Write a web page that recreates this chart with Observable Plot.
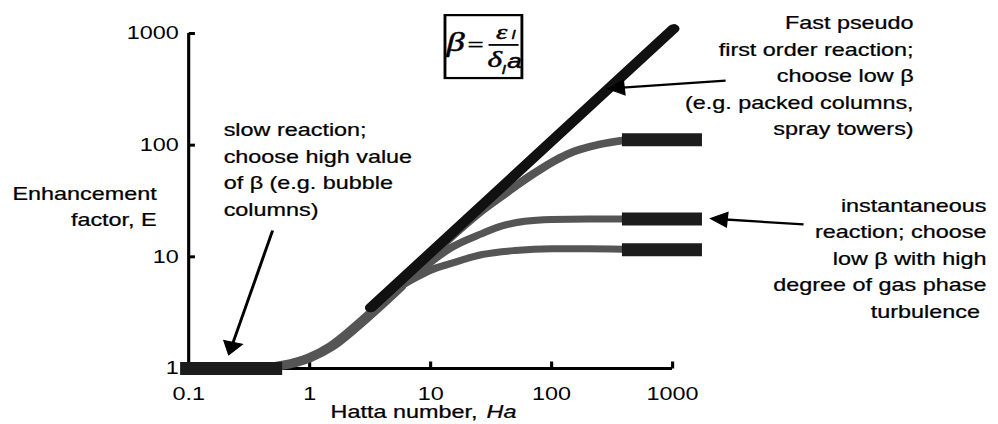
<!DOCTYPE html>
<html><head><meta charset="utf-8">
<script src="https://cdn.jsdelivr.net/npm/d3@7"></script>
<script src="https://cdn.jsdelivr.net/npm/@observablehq/plot@0.6"></script>
<style>body{margin:0;background:#fff} #chart svg{display:block}</style>
</head><body><div id="chart"></div>
<script>
// ---- axis ticks ----
const xTicks = [0.1, 1, 10, 100, 1000];
const xTickLabels = ["0.1", "1", "10", "100", "1000"];
const yTicks = [1, 10, 100, 1000];
const yTickLabels = ["1", "10", "100", "1000"];

// ---- curves (Hatta number Ha, enhancement factor E) ----
const riseHa = [0.1, 0.3, 0.45, 0.6, 0.8, 1.0, 1.5, 2.4, 3.9, 5.6];
const riseE  = [1, 1, 1.02, 1.07, 1.15, 1.25, 1.57, 2.35, 3.75, 5.4];
const highHa = [8, 10, 16.7, 26, 38, 55, 71, 100, 135, 254, 386];
const highE  = [8.2, 10.2, 17.0, 25.5, 34.5, 46, 55.5, 70, 83, 102, 110];
const midHa  = [8, 10, 14.6, 26, 38, 60, 100, 200, 386];
const midE   = [7.4, 9.0, 12.0, 16.0, 18.8, 20.8, 21.6, 21.8, 21.8];
const lowHa  = [7.5, 10, 14.6, 27, 50, 100, 200, 386];
const lowE   = [6.5, 7.6, 8.7, 10.5, 11.4, 11.8, 11.8, 11.7];
const fastHa = [3.2, 1020];
const fastE  = [3.5, 1106];

// ---- thick plateau bands ----
const plateauE = [112, 21.8, 11.6];
const plateauHa = [386, 1770];
const slowBandHa = [0.086, 0.6];
const slowBandE = 1;

// ---- arrows ----
const arrowTailHa = [0.494, 2742, 12090];
const arrowTailE  = [17.2, 379, 19.5];
const arrowHeadHa = [0.2266, 358, 2541];
const arrowHeadE  = [1.574, 326, 21.7];
const arrowAngle  = [-164.7, -95, -85.2];

// ---- annotations ----
const noteText = [
  "Enhancement\nfactor, E",
  "slow reaction;\nchoose high value\nof β (e.g. bubble\ncolumns)",
  "Fast pseudo\nfirst order reaction;\nchoose low β\n(e.g. packed columns,\nspray towers)",
  "instantaneous\nreaction; choose\nlow β with high\ndegree of gas phase\nturbulence\u00a0"
];
const noteHa = [0.0544, 0.1945, 98200, 393000];
const noteE  = [29.4, 63.1, 437, 10.1];
const noteAnchor = ["end", "start", "end", "end"];

// ---- formula box  β = ε_l / δ_l a ----
const boxHa = [13.3, 57.5];
const boxE  = [395, 1446];
const glyphText = ["β", "=", "ε", "l", "δ", "l", "a"];
const glyphHa   = [16.1, 23.5, 38.6, 48.3, 33.8, 40.1, 49.4];
const glyphE    = [830, 787, 1040, 960, 590, 470, 555];
const glyphSize = [28, 22, 22, 12, 24, 12, 20];
const glyphFont = ["Liberation Serif", "Liberation Serif", "Liberation Serif", "Liberation Sans", "Liberation Serif", "Liberation Sans", "Liberation Sans"];
const glyphStyle = ["italic", "normal", "italic", "italic", "italic", "italic", "italic"];
const fractionHa = [30.1, 53.3];
const fractionE = 790;

// ---- axis title ----
const titleParts = ["Hatta number,", "Ha"];
const titleHa = [1.49, 29.0];
const titleE = 0.404;
const titleStyle = ["normal", "italic"];

// ---- build tables ----
const rows = (ha, e) => ha.map((h, i) => ({Ha: h, E: e[i]}));
const rise = rows(riseHa, riseE);
const high = rise.concat(rows(highHa, highE));
const mid = rise.concat(rows(midHa, midE));
const low = rise.concat(rows(lowHa, lowE));
const fast = rows(fastHa, fastE);
const plateaus = plateauE.map(e => ({E: e, Ha1: plateauHa[0], Ha2: plateauHa[1]}));
const arrows = arrowTailHa.map((h, i) => ({
  x1: h, y1: arrowTailE[i], x2: arrowHeadHa[i], y2: arrowHeadE[i], a: arrowAngle[i]
}));
const notes = noteText.map((t, i) => ({t, Ha: noteHa[i], E: noteE[i], anchor: noteAnchor[i]}));
const glyphs = glyphText.map((t, i) => ({t, Ha: glyphHa[i], E: glyphE[i], size: glyphSize[i], font: glyphFont[i], fs: glyphStyle[i]}));

const tickUp = {draw(ctx) { ctx.moveTo(0, 0); ctx.lineTo(0, -7); }};
const tickRight = {draw(ctx) { ctx.moveTo(0, 0); ctx.lineTo(4.8, 0); }};

const grey = "#555555";
const dark = "#1c1c1c";
const W = 768, H = 424;
const txt = {fill: "black", stroke: "black", strokeWidth: 0.25};

const marks = [
  // axis lines
  Plot.ruleX([xTicks[0]], {x: d => d, y1: yTicks[0], y2: yTicks[3], strokeWidth: 2.4}),
  Plot.ruleY([yTicks[0]], {y: d => d, x1: xTicks[0], x2: xTicks[4], strokeWidth: 3}),
  Plot.dot(xTicks.slice(1), {x: d => d, y: yTicks[0], symbol: tickUp, stroke: "black", fill: "none", strokeWidth: 2.4}),
  Plot.dot(yTicks.slice(1), {x: xTicks[0], y: d => d, symbol: tickRight, stroke: "black", fill: "none", strokeWidth: 3}),
  Plot.axisX({ticks: xTicks, tickFormat: d => xTickLabels[xTicks.indexOf(d)], tickSize: 0, tickPadding: 19, label: null, fontSize: 18}),
  Plot.axisY({ticks: yTicks, tickFormat: d => yTickLabels[yTicks.indexOf(d)], tickSize: 0, tickPadding: 7.7, label: null, fontSize: 18}),
  // grey curves
  Plot.line(low, {x: "Ha", y: "E", stroke: grey, strokeWidth: 7, curve: "monotone-x"}),
  Plot.line(mid, {x: "Ha", y: "E", stroke: grey, strokeWidth: 7, curve: "monotone-x"}),
  Plot.line(high, {x: "Ha", y: "E", stroke: grey, strokeWidth: 7.5, curve: "monotone-x"}),
  Plot.line(rise, {x: "Ha", y: "E", stroke: grey, strokeWidth: 9, curve: "monotone-x"}),
  // fast reaction asymptote
  Plot.line(fast, {x: "Ha", y: "E", stroke: "#111", strokeWidth: 9}),
  // bands
  Plot.ruleY(plateaus, {y: "E", x1: "Ha1", x2: "Ha2", stroke: dark, strokeWidth: 13}),
  Plot.ruleY([slowBandE], {y: d => d, x1: slowBandHa[0], x2: slowBandHa[1], stroke: dark, strokeWidth: 13}),
  // arrows
  Plot.link(arrows, {x1: "x1", y1: "y1", x2: "x2", y2: "y2", stroke: "black", strokeWidth: 2.3}),
  Plot.dot(arrows, {x: "x2", y: "y2", symbol: "triangle", r: 5.5, rotate: "a", fill: "black", stroke: "black", strokeWidth: 1}),
  // formula box
  Plot.rect([0], {x1: boxHa[0], x2: boxHa[1], y1: boxE[0], y2: boxE[1], fill: "none", stroke: "black", strokeWidth: 2.2}),
  Plot.link([0], {x1: fractionHa[0], x2: fractionHa[1], y1: fractionE, y2: fractionE, stroke: "black", strokeWidth: 1.8}),
  ...glyphs.map(g => Plot.text([g], {x: "Ha", y: "E", text: "t", fontSize: g.size, fontFamily: g.font, fontStyle: g.fs, textAnchor: "middle", ...txt, strokeWidth: 0.5})),
  // annotations
  ...notes.map(n => Plot.text([n], {x: "Ha", y: "E", text: "t", textAnchor: n.anchor, lineAnchor: "middle", lineHeight: 1.47, fontSize: 18, ...txt})),
  // axis title
  ...titleParts.map((t, i) => Plot.text([t], {x: titleHa[i], y: titleE, text: d => d, textAnchor: "start", fontSize: 18, fontStyle: titleStyle[i], ...txt}))
];

const svg = Plot.plot({
  width: W, height: H,
  marginLeft: 144.7, marginRight: 250.9, marginTop: 33, marginBottom: 56,
  x: {type: "log", domain: [xTicks[0], xTicks[4]]},
  y: {type: "log", domain: [yTicks[0], yTicks[3]]},
  style: {fontFamily: "'Liberation Sans', Arial, sans-serif", fontSize: "18px", color: "black", background: "white", overflow: "visible"},
  marks
});
svg.setAttribute("preserveAspectRatio", "none");
svg.style.width = "998px";
svg.style.height = "424px";
svg.style.maxWidth = "none";
document.getElementById("chart").append(svg);
</script>
</body></html>
